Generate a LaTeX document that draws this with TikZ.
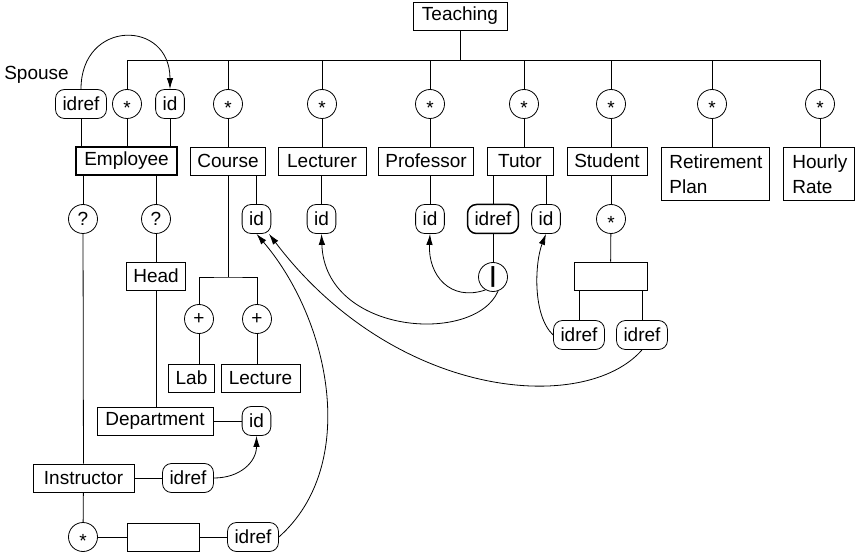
\documentclass[tikz,border=0pt]{standalone}
\usepackage{fontspec}
\setmainfont{Liberation Sans}
\usetikzlibrary{
arrows.meta,
positioning,
calc
}
\newcommand{\occstar}{\raisebox{-0.57em}[0pt][0pt]{*}}

\begin{document}
\begin{tikzpicture}
[x=1pt, y=-1pt,
every node/.style={font=\fontsize{19}{25}\selectfont},
elem/.style ={rectangle, draw, fill=white, align=center, minimum height=28pt, inner xsep=7pt, inner ysep=2pt, line width=0.8pt},
elem_key/.style ={elem, line width=1.3pt},
elem_multi/.style ={elem, align=left, anchor=north west, inner xsep=8pt, inner ysep=6pt, minimum height=53pt},
attr/.style ={rectangle, draw, rounded corners=9pt, fill=white, minimum height=29pt, inner xsep=7pt, inner ysep=2pt, line width=0.8pt},
attr_bold/.style ={attr, line width=1.5pt},
occ/.style ={circle, draw, fill=white, minimum size=29pt, inner sep=0pt, line width=0.8pt},
label_free/.style ={draw=none, fill=none, inner sep=0pt},
line_tree/.style ={draw, line width=0.8pt},
line_inner/.style ={draw, line width=0.8pt, -{Latex[length=11pt, width=6.5pt]}}
]
\useasboundingbox (0,0) rectangle (855,556);

% row 1
\node[elem, minimum width=94pt] (teaching) at (460,16) {Teaching};
\coordinate (bus) at (460,60);
\node[label_free] (spouse) at (36.5,75) {Spouse};
\node[attr] (emp_ref) at (81,104) {idref};
\node[occ] (emp_occ) at (127,104) {\occstar};
\node[attr] (emp_id) at (170,104) {id};
\node[occ] (course_occ) at (228,104) {\occstar};
\node[occ] (lect_occ) at (322,104) {\occstar};
\node[occ] (prof_occ) at (430,104) {\occstar};
\node[occ] (tutor_occ) at (524,104) {\occstar};
\node[occ] (stud_occ) at (611,104) {\occstar};
\node[occ] (ret_occ) at (712,104) {\occstar};
\node[occ] (hour_occ) at (820,104) {\occstar};

% row 2
\node[elem_key, minimum width=101pt] (employee) at (126.5,161) {Employee};
\node[elem, minimum width=72pt] (course) at (228,161) {Course};
\node[elem, minimum width=88pt] (lecturer) at (322,161) {Lecturer};
\node[elem, minimum width=94pt] (professor) at (426,161) {Professor};
\node[elem, minimum width=66pt] (tutor) at (520,161) {Tutor};
\node[elem, minimum width=80pt] (student) at (607,161) {Student};
\node[elem_multi, text width=92pt] (retirement) at (661,147) {Retirement\\Plan};
\node[elem_multi, text width=53pt, inner xsep=9pt] (hourly) at (783,147) {Hourly\\Rate};

% row 3
\node[occ] (q_instr) at (83,219) {?};
\node[occ] (q_head) at (156,219) {?};
\node[attr] (course_id) at (256.5,219) {id};
\node[attr] (lect_id) at (321.5,219) {id};
\node[attr] (prof_id) at (430,219) {id};
\node[attr_bold] (tutor_ref) at (493,219) {idref};
\node[attr] (tutor_id) at (546,219) {id};
\node[occ] (stud_star) at (611,219) {\occstar};

% row 4
\node[elem, minimum width=57pt] (head) at (156,276) {Head};
\coordinate (split) at (228,277);
\node[occ] (choice) at (493,277) {\textbf{\fontsize{22}{22}\selectfont|}};
\node[elem, minimum width=73pt] (seq) at (610.5,276) {};
\node[occ] (plus_lab) at (199,319) {+};
\node[occ] (plus_lect) at (257,319) {+};
\node[attr] (stud_ref1) at (579,335) {idref};
\node[attr] (stud_ref2) at (642,335) {idref};

% row 5
\node[elem, minimum width=43pt] (lab) at (191.5,378) {Lab};
\node[elem, minimum width=79pt] (lecture) at (260.5,378) {Lecture};
\node[elem, minimum width=116pt] (department) at (155,421) {Department};
\node[attr] (dept_id) at (256.5,421) {id};
\node[elem, minimum width=101pt] (instructor) at (83.5,478) {Instructor};
\node[attr] (instr_ref) at (188,478) {idref};
\node[occ] (instr_occ) at (83,537) {\occstar};
\node[elem, minimum width=72pt] (anon) at (163,537) {};
\node[attr] (anon_ref) at (253,537) {idref};

%%Baum%%
\draw[line_tree] (teaching) -- (teaching.south |- bus);
\draw[line_tree] (emp_occ) -- (emp_occ |- bus) -- (hour_occ |- bus) -- (hour_occ);
\draw[line_tree] (course_occ) -- (course_occ |- bus);
\draw[line_tree] (lect_occ) -- (lect_occ |- bus);
\draw[line_tree] (prof_occ) -- (prof_occ |- bus);
\draw[line_tree] (tutor_occ) -- (tutor_occ |- bus);
\draw[line_tree] (stud_occ) -- (stud_occ |- bus);
\draw[line_tree] (ret_occ) -- (ret_occ |- bus);

\draw[line_tree] (emp_ref) -- (emp_ref |- employee.north);
\draw[line_tree] (emp_occ) -- (emp_occ |- employee.north);
\draw[line_tree] (emp_id) -- (emp_id |- employee.north);
\draw[line_tree] (course_occ) -- (course);
\draw[line_tree] (lect_occ) -- (lect_occ |- lecturer.north);
\draw[line_tree] (prof_occ) -- (prof_occ |- professor.north);
\draw[line_tree] (tutor_occ) -- (tutor_occ |- tutor.north);
\draw[line_tree] (stud_occ) -- (stud_occ |- student.north);
\draw[line_tree] (ret_occ) -- (ret_occ |- retirement.north);
\draw[line_tree] (hour_occ) -- (hour_occ |- hourly.north);

\draw[line_tree] (q_instr |- employee.south) -- (q_instr);
\draw[line_tree] (q_head |- employee.south) -- (q_head);
\draw[line_tree] (q_head) -- (head);
\draw[line_tree] (head) -- (head |- department.north);
\draw[line_tree] (department) -- (dept_id);
\draw[line_tree] (q_instr) -- (instructor);
\draw[line_tree] (instructor) -- (instr_ref);
\draw[line_tree] (instructor) -- (instr_occ);
\draw[line_tree] (instr_occ) -- (anon);
\draw[line_tree] (anon) -- (anon_ref);

\draw[line_tree] (course) -- (split);
\draw[line_tree] (course_id |- course.south) -- (course_id);
\draw[line_tree] (plus_lab) |- (split) -| (plus_lect);
\draw[line_tree] (plus_lab) -- (plus_lab |- lab.north);
\draw[line_tree] (plus_lect) -- (plus_lect |- lecture.north);
\draw[line_tree] (lect_id |- lecturer.south) -- (lect_id);
\draw[line_tree] (prof_id |- professor.south) -- (prof_id);
\draw[line_tree] (tutor_ref |- tutor.south) -- (tutor_ref);
\draw[line_tree] (tutor_id |- tutor.south) -- (tutor_id);
\draw[line_tree] (tutor_ref) -- (choice);
\draw[line_tree] (stud_star |- student.south) -- (stud_star);
\draw[line_tree] (stud_star) -- (seq);
\draw[line_tree] (stud_ref1 |- seq.south) -- (stud_ref1);
\draw[line_tree] (stud_ref2 |- seq.south) -- (stud_ref2);

%%Pfeile%%
\draw[line_inner] (emp_ref.north) .. controls +(0,-70) and +(0,-70) .. (emp_id.north);
\draw[line_inner] (instr_ref.east) .. controls (240,478) and (256.5,462) .. (dept_id.south);
\draw[line_inner] (anon_ref.east) .. controls (360,465) and (330,320) .. (course_id.south);
\draw[line_inner] (stud_ref2.south) .. controls (585,415) and (395,400) .. (course_id.-50);
\draw[line_inner] (choice.240) .. controls (450,302) and (428,275) .. (prof_id.south);
\draw[line_inner] (choice.290) .. controls (475,345) and (325,335) .. (lect_id.south);
\draw[line_inner] (stud_ref1.west) .. controls (532,315) and (535,262) .. (tutor_id.south);

\end{tikzpicture}
\end{document}
